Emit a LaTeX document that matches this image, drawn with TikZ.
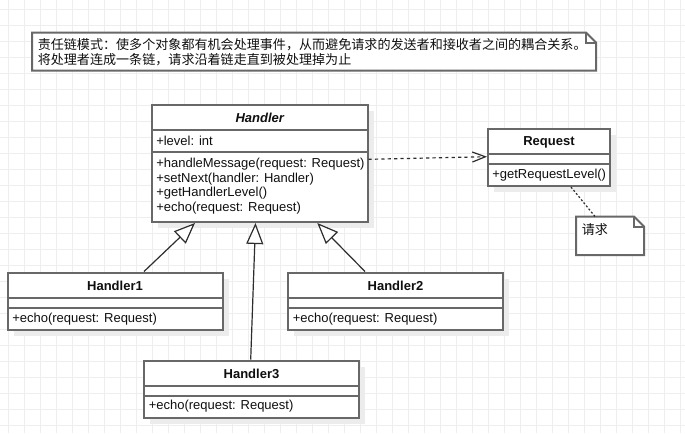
\documentclass[tikz,border=0pt]{standalone}
\usepackage{fontspec}
\setmainfont{Liberation Sans}
\newfontfamily\cjk{Noto Sans CJK SC}
\usetikzlibrary{arrows.meta,fit,shadows,calc}
\definecolor{gridc}{RGB}{238,238,238}
\definecolor{borderc}{RGB}{104,104,104}
\definecolor{shadowc}{RGB}{236,236,236}
\definecolor{linec}{RGB}{45,45,45}
\definecolor{txt}{RGB}{15,15,15}
\begin{document}
\begin{tikzpicture}[x=0.75pt,y=-0.75pt,
  border/.style={draw=borderc, line width=1.5pt},
  classbox/.style={border, fill=white, inner sep=0pt,
    drop shadow={shadow xshift=4.5pt, shadow yshift=-4.5pt, opacity=1, fill=shadowc}},
  notebox/.style={border, fill=white, line join=miter},
  txtl/.style={anchor=west, inner sep=0pt, font=\fontsize{9.75}{11}\selectfont, text=txt},
  ttl/.style={inner sep=0pt, font=\fontsize{9.75}{11}\selectfont\bfseries, text=txt},
  cjkt/.style={anchor=west, inner sep=0pt, font=\cjk\fontsize{9.8}{12}\selectfont, text=txt},
  gen/.style={draw=linec, line width=0.9pt, -{Triangle[length=15.75pt, width=12.75pt, fill=white]}},
  dep/.style={draw=linec, line width=0.9pt, dash pattern=on 2.4pt off 2.4pt,
    -{Straight Barb[length=9.75pt, width=7.5pt]}},
  dotl/.style={draw=linec, line width=0.9pt, dash pattern=on 1.5pt off 1.5pt}
]
\useasboundingbox (0,0) rectangle (685,433);
\fill[white] (0,0) rectangle (685,433);
% grid
\foreach \gx in {8,24,...,680} \draw[gridc, line width=0.75pt] (\gx,0) -- (\gx,433);
\foreach \gy in {9,25,...,425} \draw[gridc, line width=0.75pt] (0,\gy) -- (685,\gy);

% top note
\draw[notebox] (32,32.5) -- (586,32.5) -- (596,42.5) -- (596,70.5) -- (32,70.5) -- cycle;
\draw[border, line join=miter] (586,32.5) -- (586,42.5) -- (596,42.5);
\node[cjkt] (n1a) at (37.5,44.5) {责任链模式：使多个对象都有机会处理事件，从而避免请求的发送者和接收者之间的耦合关系。};
\node[cjkt] (n1b) at (37.5,59.5) {将处理者连成一条链，请求沿着链走直到被处理掉为止};

% Handler
\coordinate (ha) at (152,105); \coordinate (hb) at (367.5,222);
\node[classbox, fit=(ha)(hb)] (h) {};
\draw[border] (152,130) -- (367.5,130);
\draw[border] (152,152) -- (367.5,152);
\node[ttl, font=\fontsize{9.75}{11}\selectfont\bfseries\itshape] (ht) at (259.75,117.5) {Handler};
\node[txtl] (h0) at (156,141) {+level: int};
\node[txtl] (h1m) at (156,164) {+handleMessage(request: Request)};
\node[txtl] (h2m) at (156,179) {+setNext(handler: Handler)};
\node[txtl] (h3m) at (156,193.5) {+getHandlerLevel()};
\node[txtl] (h4m) at (156,208) {+echo(request: Request)};

% Request
\coordinate (ra) at (488,129); \coordinate (rb) at (610,186);
\node[classbox, fit=(ra)(rb)] (r) {};
\draw[border] (488,154) -- (610,154);
\draw[border] (488,164) -- (610,164);
\node[ttl] (rt) at (549,142) {Request};
\node[txtl] (rm) at (492,175) {+getRequestLevel()};

% Handler1
\coordinate (a1) at (7.5,272.5); \coordinate (b1) at (222.5,330);
\node[classbox, fit=(a1)(b1)] (c1) {};
\draw[border] (7.5,298) -- (222.5,298);
\draw[border] (7.5,308) -- (222.5,308);
\node[ttl] (c1t) at (115,285.5) {Handler1};
\node[txtl] (c1m) at (12,319) {+echo(request: Request)};

% Handler2
\coordinate (a2) at (288,272.5); \coordinate (b2) at (503,330);
\node[classbox, fit=(a2)(b2)] (c2) {};
\draw[border] (288,298) -- (503,298);
\draw[border] (288,308) -- (503,308);
\node[ttl] (c2t) at (395.5,285.5) {Handler2};
\node[txtl] (c2m) at (292.5,319) {+echo(request: Request)};

% Handler3
\coordinate (a3) at (144,360.5); \coordinate (b3) at (359,417.5);
\node[classbox, fit=(a3)(b3)] (c3) {};
\draw[border] (144,386) -- (359,386);
\draw[border] (144,396) -- (359,396);
\node[ttl] (c3t) at (251.5,374) {Handler3};
\node[txtl] (c3m) at (148.5,406.5) {+echo(request: Request)};

% note 请求
\draw[notebox] (576,216.5) -- (634,216.5) -- (644,226.5) -- (644,255) -- (576,255) -- cycle;
\draw[border, line join=miter] (634,216.5) -- (634,226.5) -- (644,226.5);
\coordinate (n2top) at (595,216.5);
\node[cjkt] (n2t) at (581.5,229.5) {请求};

% connectors
\draw[gen] ($(c1.north west)+(137.5,0)$) -- ($(h.south west)+(44,0)$);
\draw[gen] ($(c3.north west)+(107.7,0)$) -- ($(h.south west)+(104.5,0)$);
\draw[gen] ($(c2.north west)+(78,0)$) -- ($(h.south west)+(166.3,0)$);
\draw[dep] ($(h.north east)+(0,55.3)$) -- ($(r.north west)+(0,28.7)$);
\draw[dotl] ($(r.south west)+(84,0)$) -- (n2top);
\end{tikzpicture}
\end{document}
